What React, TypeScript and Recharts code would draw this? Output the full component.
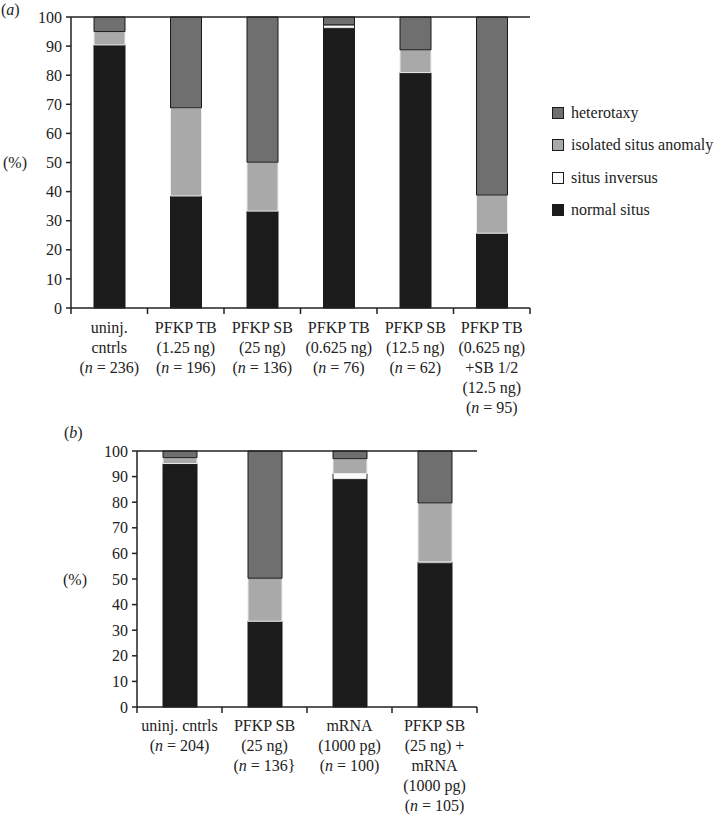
import React from 'react';
import { BarChart, Bar, XAxis, YAxis, ReferenceLine, Legend } from 'recharts';

// ---- Data: panel (a) ----
const labelsA: string[][] = [
  ['uninj.', 'cntrls', '(n = 236)'],
  ['PFKP TB', '(1.25 ng)', '(n = 196)'],
  ['PFKP SB', '(25 ng)', '(n = 136)'],
  ['PFKP TB', '(0.625 ng)', '(n = 76)'],
  ['PFKP  SB', '(12.5 ng)', '(n = 62)'],
  ['PFKP TB', '(0.625 ng)', '+SB 1/2', '(12.5 ng)', '(n = 95)'],
];
const normalA = [90.4, 38.5, 33.3, 96.1, 80.9, 25.7];
const inversusA = [0, 0, 0, 1.2, 0, 0];
const isolatedA = [4.6, 30.3, 16.8, 0, 7.8, 13.1];
const heterotaxyA = [5.0, 31.2, 49.9, 2.7, 11.3, 61.2];

// ---- Data: panel (b) ----
const labelsB: string[][] = [
  ['uninj. cntrls', '(n = 204)'],
  ['PFKP SB', '(25 ng)', '(n = 136}'],
  ['mRNA', '(1000 pg)', '(n = 100)'],
  ['PFKP SB', '(25 ng) +', 'mRNA', '(1000 pg)', '(n = 105)'],
];
const normalB = [95.1, 33.5, 88.9, 56.1];
const inversusB = [0, 0, 2.3, 0.6];
const isolatedB = [2.3, 16.8, 5.8, 23.0];
const heterotaxyB = [2.6, 49.7, 3.0, 20.3];

const yTicks = [0, 10, 20, 30, 40, 50, 60, 70, 80, 90, 100];

const seriesNames = ['normal situs', 'situs inversus', 'isolated situs anomaly', 'heterotaxy'];

const FONT = '"Liberation Serif", "Times New Roman", serif';
const INK = '#222';
const COLORS = {
  normal: '#1b1b1b',
  inversus: '#fbfbfb',
  isolated: '#a9a9a9',
  heterotaxy: '#6f6f6f',
};

function build(labels: string[][], n: number[], si: number[], isa: number[], het: number[]) {
  return labels.map((_, i) => ({
    id: 'c' + i,
    normal: n[i],
    inversus: si[i],
    isolated: isa[i],
    heterotaxy: het[i],
  }));
}

const dataA = build(labelsA, normalA, inversusA, isolatedA, heterotaxyA);
const dataB = build(labelsB, normalB, inversusB, isolatedB, heterotaxyB);

const TICK_LEN = 6;

const makeTick = (labels: string[][], firstOffset: number) => (props: any) => {
  const { x, y, index, payload, width, visibleTicksCount } = props;
  const lines = labels[index] || [];
  let half = payload && payload.offset ? payload.offset : 0;
  if (!half && width && visibleTicksCount) half = width / visibleTicksCount / 2;
  const isLast = index === labels.length - 1;
  return (
    <g>
      <line x1={x - half} x2={x - half} y1={y} y2={y + TICK_LEN} stroke={INK} strokeWidth={1.5} />
      {isLast && (
        <line x1={x + half} x2={x + half} y1={y} y2={y + TICK_LEN} stroke={INK} strokeWidth={1.5} />
      )}
      {lines.map((line, i) => (
        <text
          key={i}
          x={x}
          y={y + firstOffset + i * 20}
          textAnchor="middle"
          fontFamily={FONT}
          fontSize={16}
          fill={INK}
        >
          {line.startsWith('(n') ? (
            <>
              (<tspan fontStyle="italic">n</tspan>
              {line.slice(2)}
            </>
          ) : (
            line
          )}
        </text>
      ))}
    </g>
  );
};

const legendItems = [
  { name: seriesNames[3], color: COLORS.heterotaxy },
  { name: seriesNames[2], color: COLORS.isolated },
  { name: seriesNames[1], color: COLORS.inversus },
  { name: seriesNames[0], color: COLORS.normal },
];

const LegendContent = () => (
  <div style={{ fontFamily: FONT, fontSize: 16, color: INK }}>
    {legendItems.map((it) => (
      <div key={it.name} style={{ display: 'flex', alignItems: 'center', height: 32.3 }}>
        <span
          style={{
            display: 'inline-block',
            width: 10,
            height: 10,
            background: it.color,
            border: '1px solid #1b1b1b',
            marginRight: 7,
          }}
        />
        <span style={{ whiteSpace: 'nowrap' }}>{it.name}</span>
      </div>
    ))}
  </div>
);

function Panel(props: {
  data: any[];
  labels: string[][];
  width: number;
  height: number;
  margin: any;
  barSize: number;
  firstOffset: number;
  legend?: boolean;
  pctOffset: number;
}) {
  const { data, labels, width, height, margin, barSize, firstOffset, legend, pctOffset } = props;
  return (
    <BarChart width={width} height={height} data={data} margin={margin} barSize={barSize}>
      <XAxis
        dataKey="id"
        type="category"
        height={100}
        axisLine={{ stroke: INK, strokeWidth: 1.5 }}
        tickLine={false}
        tickSize={0}
        tickMargin={0}
        interval={0}
        tick={makeTick(labels, firstOffset)}
      />
      <YAxis
        width={71}
        domain={[0, 100]}
        ticks={yTicks}
        interval={0}
        tickSize={5}
        tickMargin={4}
        axisLine={{ stroke: INK, strokeWidth: 1.5 }}
        tickLine={{ stroke: INK, strokeWidth: 1.5 }}
        tick={{ fontFamily: FONT, fontSize: 16, fill: INK }}
        label={{
          value: '(%)',
          position: 'insideLeft',
          offset: pctOffset,
          style: { fontFamily: FONT, fontSize: 16, fill: INK, textAnchor: 'start' },
        }}
      />
      <YAxis
        yAxisId="right"
        orientation="right"
        width={0}
        domain={[0, 100]}
        tick={false}
        tickLine={false}
        axisLine={{ stroke: INK, strokeWidth: 1.5 }}
      />
      <ReferenceLine y={100} stroke={INK} strokeWidth={1.5} />
      <Bar dataKey="normal" name={seriesNames[0]} stackId="s" fill={COLORS.normal} stroke="#1b1b1b" strokeWidth={1} isAnimationActive={false} />
      <Bar dataKey="inversus" name={seriesNames[1]} stackId="s" fill={COLORS.inversus} stroke="#2a2a2a" strokeWidth={1} isAnimationActive={false} />
      <Bar dataKey="isolated" name={seriesNames[2]} stackId="s" fill={COLORS.isolated} stroke="#ececec" strokeWidth={1} isAnimationActive={false} />
      <Bar dataKey="heterotaxy" name={seriesNames[3]} stackId="s" fill={COLORS.heterotaxy} stroke="#1b1b1b" strokeWidth={1} isAnimationActive={false} />
      {legend && (
        <Legend
          layout="horizontal"
          verticalAlign="middle"
          align="center"
          content={<LegendContent />}
          wrapperStyle={{ position: 'absolute', left: 552, top: 97, width: 168, right: 'auto', bottom: 'auto' }}
        />
      )}
    </BarChart>
  );
}

export default function App() {
  return (
    <div style={{ position: 'absolute', left: 0, top: 0, width: 720, height: 815, background: '#fff', fontFamily: FONT }}>
      <div style={{ position: 'absolute', left: 0, top: 0 }}>
        <Panel
          data={dataA}
          labels={labelsA}
          width={720}
          height={425}
          margin={{ top: 17, right: 190, left: 0, bottom: 425 - 308 - 100 }}
          barSize={31}
          firstOffset={25}
          pctOffset={3}
          legend
        />
      </div>
      <div style={{ position: 'absolute', left: 0, top: 420 }}>
        <Panel
          data={dataB}
          labels={labelsB}
          width={720}
          height={395}
          margin={{ top: 31, right: 243, left: 66, bottom: 395 - 287 - 100 }}
          barSize={34}
          firstOffset={24}
          pctOffset={-3}
        />
      </div>
      <div style={{ position: 'absolute', left: 1, top: 0, fontSize: 16, color: INK, lineHeight: '20px' }}>
        (<i>a</i>)
      </div>
      <div style={{ position: 'absolute', left: 64, top: 423, fontSize: 16, color: INK, lineHeight: '20px' }}>
        (<i>b</i>)
      </div>
    </div>
  );
}
